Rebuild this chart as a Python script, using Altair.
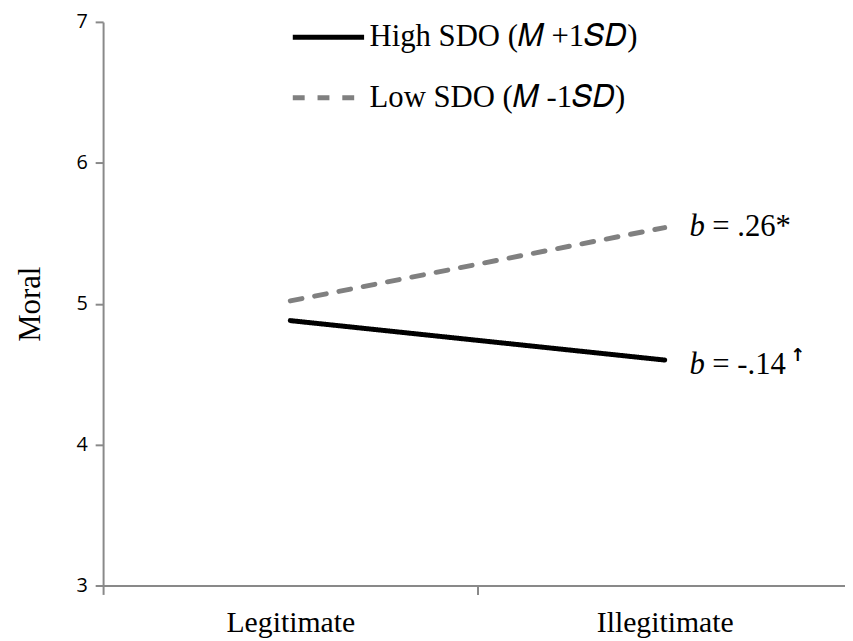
import altair as alt
import pandas as pd

# ---- data ----
conditions = ["Legitimate", "Illegitimate"]
condition_x = [0, 1]
high_sdo = [4.88, 4.60]
low_sdo = [5.02, 5.54]
series_names = ["High SDO (𝑀 +1𝑆𝐷)", "Low SDO (𝑀 -1𝑆𝐷)"]
slope_text = ["= -.14", "= .26*"]
slope_mark = ["↑", ""]
y_ticks = [3, 4, 5, 6, 7]
x_ticks = [-0.5, 0, 0.5, 1]

rows = []
for name, vals in zip(series_names, [high_sdo, low_sdo]):
    for c, x, v in zip(conditions, condition_x, vals):
        rows.append({"series": name, "condition": c, "x": x, "value": v})
df = pd.DataFrame(rows)

ends = pd.DataFrame({
    "series": series_names,
    "x": [condition_x[-1]] * 2,
    "value": [high_sdo[-1], low_sdo[-1]],
    "b": ["b", "b"],
    "rest": slope_text,
    "sup": slope_mark,
})

SERIF = "Liberation Serif"
AXIS_GRAY = "#898989"
FS = 31

label_expr = " : ".join(
    [f"datum.value == {x} ? '{c}'" for c, x in zip(conditions, condition_x)]
) + " : ''"

x_enc = alt.X(
    "x:Q",
    scale=alt.Scale(domain=[-0.5, 1.4815], nice=False, zero=False),
    axis=alt.Axis(
        values=x_ticks, title=None, grid=False, labelExpr=label_expr,
        labelFont=SERIF, labelFontSize=30, labelColor="black",
        labelPadding=13, labelFlush=False, labelOverlap=False,
        tickSize=9, tickWidth=2, tickColor=AXIS_GRAY,
        tickOpacity={"condition": {"test": "datum.value == 0 || datum.value == 1", "value": 0}, "value": 1},
        domainColor=AXIS_GRAY, domainWidth=2,
    ),
)
y_enc = alt.Y(
    "value:Q",
    scale=alt.Scale(domain=[3, 7], nice=False, zero=False),
    axis=alt.Axis(
        values=y_ticks, format="d", title="Moral", grid=False,
        labelFont="Open Sans", labelFontSize=20, labelColor="black", labelPadding=8,
        tickSize=8, tickWidth=2, tickColor=AXIS_GRAY,
        domainColor=AXIS_GRAY, domainWidth=2,
        titleFont=SERIF, titleFontSize=FS, titleFontWeight="normal",
        titleColor="black", titlePadding=30,
    ),
)

lines = alt.Chart(df).mark_line(strokeWidth=5, strokeCap="round").encode(
    x=x_enc,
    y=y_enc,
    color=alt.Color(
        "series:N",
        scale=alt.Scale(domain=series_names, range=["#000000", "#808080"]),
        legend=alt.Legend(
            title=None, orient="none", legendX=189, legendY=-23,
            labelFont=SERIF, labelFontSize=FS, labelColor="black", labelOffset=3,
            labelLimit=0,
            symbolType="stroke", symbolSize=5184, symbolStrokeWidth=5,
            rowPadding=7,
        ),
    ),
    strokeDash=alt.StrokeDash(
        "series:N",
        scale=alt.Scale(domain=series_names, range=[[1, 0], [12, 13]]),
        legend=None,
    ),
    order="x:Q",
)

def annot(series, dy):
    base = alt.Chart(ends).transform_filter(alt.datum.series == series).encode(
        x=alt.X("x:Q"), y=alt.Y("value:Q")
    )
    b = base.mark_text(align="left", baseline="alphabetic", dx=25, dy=dy,
                       font=SERIF, fontSize=FS, fontStyle="italic", color="black").encode(text="b:N")
    rest = base.mark_text(align="left", baseline="alphabetic", dx=48, dy=dy,
                          font=SERIF, fontSize=FS, color="black").encode(text="rest:N")
    sup = base.mark_text(align="left", baseline="alphabetic", dx=127, dy=dy - 13,
                         font="DejaVu Sans", fontSize=18, fontWeight="bold", color="black").encode(text="sup:N")
    return b + rest + sup

chart = alt.layer(
    lines,
    annot(series_names[0], 14),
    annot(series_names[1], 8),
).properties(
    width=749, height=569,
    autosize=alt.AutoSizeParams(type="none"),
    padding={"left": 96, "top": 11, "right": 0, "bottom": 53},
).configure_view(stroke=None)

chart.save("out.html", embed_options={"renderer": "svg", "actions": False})
